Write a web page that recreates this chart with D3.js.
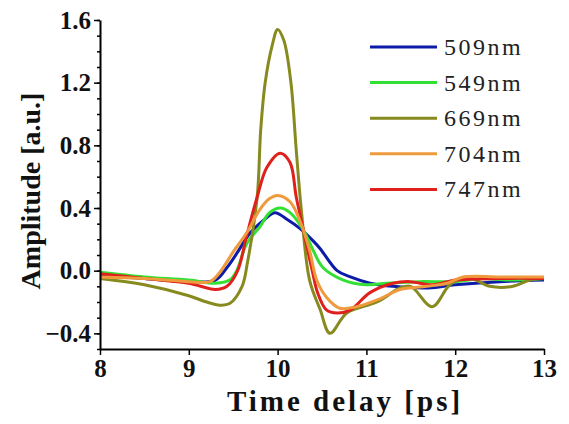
<!DOCTYPE html>
<html>
  <head>
    <meta charset="utf-8">
    <script src="https://d3js.org/d3.v7.min.js"></script>
    <style>
      body { margin: 0; background: #fff; }
    </style>
  </head>
  <body>
    <div id="chart"></div>

    <script>

        // Amplitude traces, time delay in ps
        let x509 = [8, 8.5, 9, 9.3, 9.43, 9.54, 9.69, 9.84, 9.97, 10.1, 10.25, 10.4, 10.48, 10.67, 10.82, 11.04, 11.3, 11.7, 12.0, 12.5, 13],
            y509 = [-0.03, -0.05, -0.07, -0.06, 0.02, 0.11, 0.24, 0.32, 0.37, 0.33, 0.27, 0.19, 0.14, 0.0, -0.04, -0.08, -0.10, -0.11, -0.09, -0.07, -0.06]

        let x549 = [8, 8.5, 9, 9.3, 9.46, 9.54, 9.65, 9.8, 9.91, 10.03, 10.14, 10.29, 10.4, 10.51, 10.74, 11.0, 11.23, 11.6, 12.0, 12.3, 12.6, 13],
            y549 = [-0.01, -0.04, -0.06, -0.08, -0.06, 0.0, 0.17, 0.28, 0.37, 0.40, 0.37, 0.26, 0.13, 0.02, -0.06, -0.09, -0.08, -0.07, -0.07, -0.05, -0.06, -0.05]

        let x669 = [8, 8.5, 9, 9.2, 9.35, 9.46, 9.6, 9.66, 9.77, 9.81, 9.86, 9.94, 10.0, 10.07, 10.15, 10.21, 10.27, 10.36, 10.48, 10.59, 10.78, 11.12, 11.38, 11.5, 11.74, 11.94, 12.13, 12.39, 12.65, 12.84, 13],
            y669 = [-0.05, -0.09, -0.16, -0.2, -0.22, -0.21, -0.10, 0.05, 0.47, 0.9, 1.2, 1.44, 1.54, 1.47, 1.2, 0.77, 0.37, -0.06, -0.25, -0.40, -0.27, -0.2, -0.11, -0.1, -0.23, -0.09, -0.04, -0.10, -0.10, -0.06, -0.05]

        let x704 = [8, 8.5, 9, 9.24, 9.35, 9.5, 9.65, 9.8, 9.91, 10.0, 10.14, 10.25, 10.36, 10.44, 10.55, 10.7, 10.89, 11.15, 11.38, 11.68, 11.91, 12.09, 12.5, 13],
            y704 = [-0.04, -0.05, -0.07, -0.07, -0.01, 0.12, 0.24, 0.39, 0.46, 0.48, 0.44, 0.32, 0.13, -0.06, -0.17, -0.24, -0.23, -0.18, -0.12, -0.10, -0.08, -0.04, -0.04, -0.04]

        let x747 = [8, 8.5, 9, 9.3, 9.43, 9.55, 9.65, 9.77, 9.88, 10.03, 10.14, 10.21, 10.29, 10.39, 10.45, 10.55, 10.67, 10.82, 11.04, 11.3, 11.49, 11.75, 12, 12.5, 13],
            y747 = [-0.02, -0.05, -0.08, -0.12, -0.10, 0.0, 0.22, 0.47, 0.66, 0.75, 0.69, 0.47, 0.26, 0.0, -0.14, -0.25, -0.27, -0.25, -0.14, -0.08, -0.07, -0.09, -0.06, -0.05, -0.05]

        let labels = ['509nm', '549nm', '669nm', '704nm', '747nm'],
            colors = ['#0c1ca8', '#33e033', '#878a1e', '#f09a3e', '#e0201c'],
            xTicks = [8, 9, 10, 11, 12, 13],
            yTicks = [-0.4, 0.0, 0.4, 0.8, 1.2, 1.6]

        let series = [[x509, y509], [x549, y549], [x669, y669], [x704, y704], [x747, y747]]
            .map((s, i) => ({
                name: labels[i],
                color: colors[i],
                points: s[0].map((t, j) => [t, s[1][j]])
            }))

        drawChart(series)

        function drawChart(series) {

            let width  = 569,
                height = 424,
                serif  = '"Liberation Serif", "Times New Roman", serif',

                svg = d3.select('#chart').append('svg')
                    .attr('width', width)
                    .attr('height', height),

                x = d3.scaleLinear().domain([8, 13]).range([100, 544]),
                y = d3.scaleLinear().domain([-0.5, 1.6]).range([349, 20])

            svg.append('rect')
                .attr('width', width)
                .attr('height', height)
                .attr('fill', '#fff')

            // curves: red goes under orange so the tail looks like the figure
            let order = [0, 1, 2, 4, 3],
                line = d3.line()
                    .x(d => x(d[0]))
                    .y(d => y(d[1]))
                    .curve(d3.curveCatmullRom.alpha(0.5))

            svg.append('g')
                .selectAll('path')
                .data(order.map(i => series[i]))
                .join('path')
                    .attr('fill', 'none')
                    .attr('stroke', d => d.color)
                    .attr('stroke-width', 3)
                    .attr('stroke-linejoin', 'round')
                    .attr('d', d => line(d.points))

            // axes
            let xAxis = svg.append('g')
                .attr('transform', `translate(0,${y(-0.5)})`)
                .call(d3.axisBottom(x).tickValues(xTicks).tickFormat(d3.format('d')).tickSize(6).tickSizeOuter(0))

            let yMinor = svg.append('g')
                .attr('transform', `translate(${x(8)},0)`)
                .call(d3.axisLeft(y).tickValues(d3.range(-5, 17).map(d => d / 10)).tickFormat('').tickSize(3).tickSizeOuter(0))
            yMinor.select('.domain').remove()

            let yAxis = svg.append('g')
                .attr('transform', `translate(${x(8)},0)`)
                .call(d3.axisLeft(y).tickValues(yTicks).tickFormat(d3.format('.1f')).tickSize(6).tickSizeOuter(0))

            svg.selectAll('g').attr('font-family', serif)
            svg.selectAll('.domain').attr('stroke', '#000').attr('stroke-width', 2)
            svg.selectAll('.tick line').attr('stroke', '#000').attr('stroke-width', 1.5)

            xAxis.selectAll('.tick text')
                .attr('y', 10)
                .attr('font-size', 25)
                .attr('font-weight', 'bold')
                .attr('fill', '#111')

            yAxis.selectAll('.tick text')
                .attr('x', -9)
                .attr('font-size', 25)
                .attr('font-weight', 'bold')
                .attr('fill', '#111')

            // axis titles
            svg.append('text')
                .attr('x', 345)
                .attr('y', 411)
                .attr('text-anchor', 'middle')
                .attr('font-family', serif)
                .attr('font-size', 29)
                .attr('font-weight', 'bold')
                .style('letter-spacing', '3px')
                .attr('fill', '#111')
                .text('Time delay [ps]')

            svg.append('text')
                .attr('transform', 'translate(40,191) rotate(-90)')
                .attr('text-anchor', 'middle')
                .attr('font-family', serif)
                .attr('font-size', 28)
                .attr('font-weight', 'bold')
                .attr('fill', '#111')
                .text('Amplitude [a.u.]')

            // legend
            let legend = svg.append('g')
                .attr('font-family', serif)
                .selectAll('g')
                .data(series)
                .join('g')
                    .attr('transform', (d, i) => `translate(370,${47 + i * 35.6})`)

            legend.append('line')
                .attr('x1', 0)
                .attr('x2', 67)
                .attr('stroke', d => d.color)
                .attr('stroke-width', 3)

            legend.append('text')
                .attr('x', 74)
                .attr('y', 8)
                .attr('font-size', 24)
                .style('letter-spacing', '2.5px')
                .attr('fill', '#222')
                .text(d => d.name)
        }

    </script>
  </body>
</html>
